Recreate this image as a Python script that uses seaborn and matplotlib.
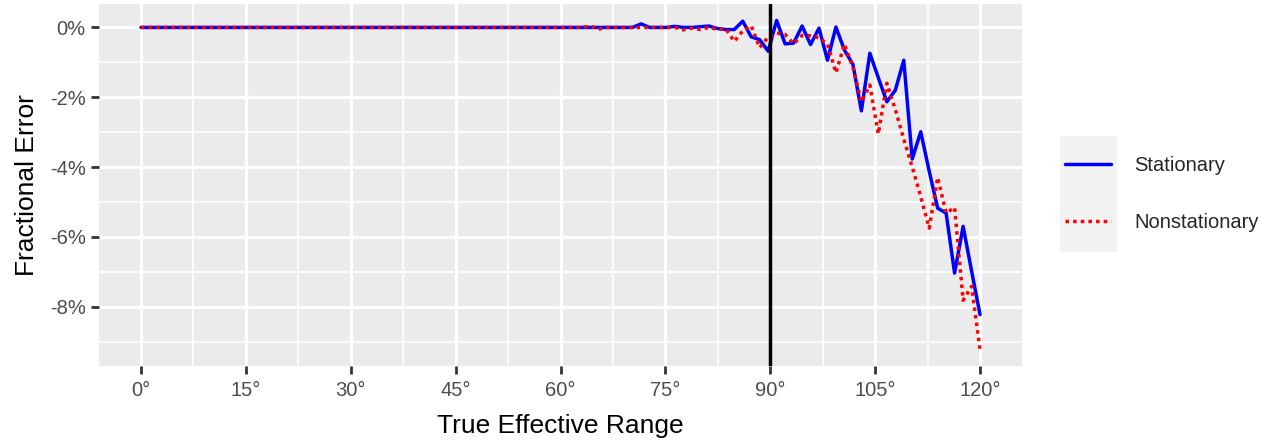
import matplotlib
matplotlib.use("Agg")
import matplotlib.pyplot as plt
import seaborn as sns
from matplotlib.patches import Rectangle
from matplotlib.lines import Line2D

# ---------------- data ----------------
range_deg = [0.00, 1.21, 2.42, 3.64, 4.85, 6.06, 7.27, 8.48, 9.70, 10.91,
             12.12, 13.33, 14.55, 15.76, 16.97, 18.18, 19.39, 20.61, 21.82, 23.03,
             24.24, 25.45, 26.67, 27.88, 29.09, 30.30, 31.52, 32.73, 33.94, 35.15,
             36.36, 37.58, 38.79, 40.00, 41.21, 42.42, 43.64, 44.85, 46.06, 47.27,
             48.48, 49.70, 50.91, 52.12, 53.33, 54.55, 55.76, 56.97, 58.18, 59.39,
             60.61, 61.82, 63.03, 64.24, 65.45, 66.67, 67.88, 69.09, 70.30, 71.52,
             72.73, 73.94, 75.15, 76.36, 77.58, 78.79, 80.00, 81.21, 82.42, 83.64,
             84.85, 86.06, 87.27, 88.48, 89.70, 90.91, 92.12, 93.33, 94.55, 95.76,
             96.97, 98.18, 99.39, 100.61, 101.82, 103.03, 104.24, 105.45, 106.67, 107.88,
             109.09, 110.30, 111.52, 112.73, 113.94, 115.15, 116.36, 117.58, 118.79, 120.00]

# fractional error in percent
stationary = [0.00, 0.00, 0.00, 0.00, 0.00, 0.00, 0.00, 0.00, 0.00, 0.00,
              0.00, 0.00, 0.00, 0.00, 0.00, 0.00, 0.00, 0.00, 0.00, 0.00,
              0.00, 0.00, 0.00, 0.00, 0.00, 0.00, 0.00, 0.00, 0.00, 0.00,
              0.00, 0.00, 0.00, 0.00, 0.00, 0.00, 0.00, 0.00, 0.00, 0.00,
              0.00, 0.00, 0.00, 0.00, 0.00, 0.00, 0.00, 0.00, 0.00, 0.00,
              0.00, 0.00, 0.00, 0.00, 0.00, 0.00, 0.00, 0.00, 0.00, 0.10,
              0.00, 0.00, 0.00, 0.03, 0.00, 0.00, 0.02, 0.04, -0.03, -0.06,
              -0.06, 0.18, -0.27, -0.35, -0.68, 0.20, -0.47, -0.45, 0.04, -0.49,
              -0.02, -0.94, 0.01, -0.65, -1.06, -2.39, -0.74, -1.44, -2.13, -1.80,
              -0.94, -3.77, -2.99, -4.12, -5.18, -5.32, -7.04, -5.70, -6.98, -8.23]

nonstationary = [0.00, 0.00, 0.00, 0.00, 0.00, 0.00, 0.00, 0.00, 0.00, 0.00,
                 0.00, 0.00, 0.00, 0.00, 0.00, 0.00, 0.00, 0.00, 0.00, 0.00,
                 0.00, 0.00, 0.00, 0.00, 0.00, 0.00, 0.00, 0.00, 0.00, 0.00,
                 0.00, 0.00, 0.00, 0.00, 0.00, 0.00, 0.00, 0.00, 0.00, 0.00,
                 0.00, 0.00, 0.00, 0.00, 0.00, 0.00, 0.00, 0.00, 0.00, 0.00,
                 0.00, 0.00, 0.00, 0.04, -0.05, 0.00, 0.00, 0.00, 0.00, 0.00,
                 0.00, 0.00, 0.00, 0.00, -0.07, -0.02, -0.06, 0.00, -0.05, -0.04,
                 -0.40, -0.10, 0.05, -0.58, -0.28, -0.16, -0.20, -0.47, -0.23, -0.24,
                 -0.30, -0.47, -1.30, -0.48, -1.15, -2.13, -1.65, -3.05, -1.60, -2.35,
                 -3.20, -4.00, -4.85, -5.75, -4.30, -5.32, -5.16, -7.82, -7.42, -9.23]

series_names = ["Stationary", "Nonstationary"]
x_ticks = [0, 15, 30, 45, 60, 75, 90, 105, 120]
x_tick_labels = ["0°", "15°", "30°", "45°", "60°", "75°", "90°", "105°", "120°"]
y_ticks = [0, -2, -4, -6, -8]
y_tick_labels = ["0%", "-2%", "-4%", "-6%", "-8%"]
ref_x = 90

# ---------------- style ----------------
sns.set_theme(style="darkgrid")
plt.rcParams['font.family'] = ['Liberation Sans', 'DejaVu Sans']

W, H = 1273, 440
fig = plt.figure(figsize=(W / 100, H / 100), dpi=100)
ax = fig.add_axes([99 / W, 1 - 366 / H, (1022 - 99) / W, (366 - 4) / H])
ax.set_facecolor('#EBEBEB')
for s in ax.spines.values():
    s.set_visible(False)

col_s, col_n = 'blue', 'red'
lw = 2.5
dot = (0, (1, 1.2))

sns.lineplot(x=range_deg, y=stationary, color=col_s, linewidth=lw, ax=ax, zorder=3)
sns.lineplot(x=range_deg, y=nonstationary, color=col_n, linewidth=lw, linestyle=dot,
             ax=ax, zorder=4)
ax.axvline(ref_x, color='black', linewidth=lw, zorder=5)

# limits with ggplot-like 5% expansion
xmin, xmax = min(range_deg), max(range_deg)
xpad = 0.05 * (xmax - xmin)
allv = stationary + nonstationary
ymin, ymax = min(allv), max(allv)
ypad = 0.05 * (ymax - ymin)

ax.set_xticks(x_ticks)
ax.set_xticklabels(x_tick_labels)
ax.set_yticks(y_ticks)
ax.set_yticklabels(y_tick_labels)
ax.set_xticks([(a + b) / 2 for a, b in zip(x_ticks[:-1], x_ticks[1:])], minor=True)
ax.set_yticks([t - 1 for t in y_ticks], minor=True)
ax.set_xlim(xmin - xpad, xmax + xpad)
ax.set_ylim(ymin - ypad, ymax + ypad)

ax.grid(which='major', color='white', linewidth=2.3)
ax.grid(which='minor', color='white', linewidth=1.2)
ax.set_axisbelow(True)
ax.tick_params(axis='both', which='major', length=5.5, width=2, color='#333333',
               labelsize=14.5, labelcolor='#4D4D4D', pad=4,
               bottom=True, left=True)
ax.tick_params(axis='x', which='major', pad=5.5)
ax.tick_params(axis='both', which='minor', length=0)

ax.set_xlabel('True Effective Range', fontsize=19, color='black', labelpad=10)
ax.set_ylabel('Fractional Error', fontsize=19, color='black', labelpad=8)

# legend key background (ggplot-style)
fig.add_artist(Rectangle((1060 / W, 1 - 252 / H), 57 / W, 116 / H,
                         transform=fig.transFigure, facecolor='#F2F2F2',
                         edgecolor='none', zorder=0))
handles = [Line2D([], [], color=col_s, linewidth=lw),
           Line2D([], [], color=col_n, linewidth=lw, linestyle=dot)]
fig.legend(handles, series_names, loc='center left',
           bbox_to_anchor=(1065 / W, 1 - 194 / H), frameon=False,
           fontsize=14.5, handlelength=2.3, handletextpad=1.15,
           labelspacing=1.9, borderpad=0, borderaxespad=0)

fig.savefig('out.png', dpi=100)
